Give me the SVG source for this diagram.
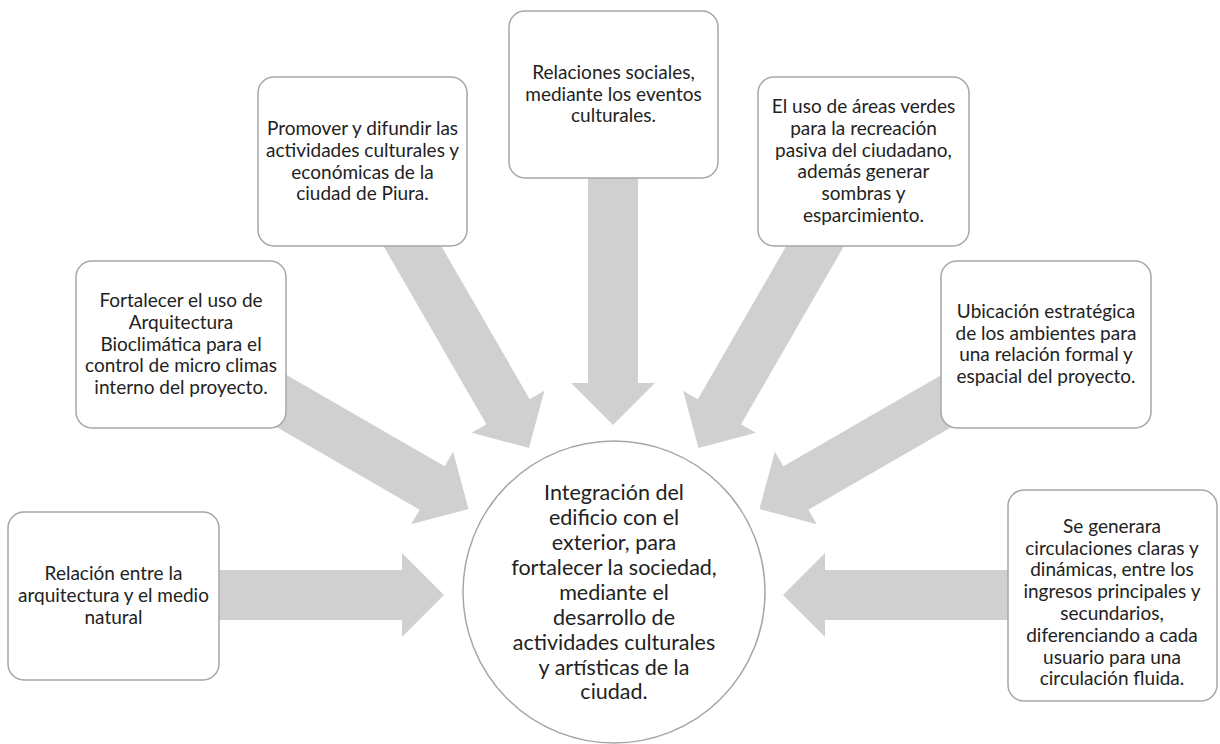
<svg xmlns="http://www.w3.org/2000/svg" width="1220" height="744" viewBox="0 0 1220 744">
<defs>
<style>
.arrow{fill:#d0d0d0;stroke:none}
.box{fill:#ffffff;stroke:#a6a6a6;stroke-width:1.5}
.t{font-family:Lato,"Liberation Sans",sans-serif;font-size:19px;fill:#222222;text-anchor:middle}
.c{font-family:Lato,"Liberation Sans",sans-serif;font-size:21.5px;fill:#222222;text-anchor:middle}
</style>
<polygon id="arr" points="0,0 -42,-42 -42,-25 -250,-25 -250,25 -42,25 -42,42"/>
</defs>
<rect width="1220" height="744" fill="#ffffff"/>
<g id="connectors">
<use href="#arr" class="arrow" transform="translate(444,595) rotate(0)"/>
<use href="#arr" class="arrow" transform="translate(783,595) rotate(180)"/>
<use href="#arr" class="arrow" transform="translate(613,425) rotate(90)"/>
<use href="#arr" class="arrow" transform="translate(468.5,509) rotate(30)"/>
<use href="#arr" class="arrow" transform="translate(529,448) rotate(60)"/>
<use href="#arr" class="arrow" transform="translate(698.5,448) rotate(120)"/>
<use href="#arr" class="arrow" transform="translate(759.5,509) rotate(150)"/>
</g>
<g id="n1">
<rect class="box" x="8" y="512" width="211" height="168" rx="16"/>
<text class="t" x="113.5" y="580">Relación entre la</text>
<text class="t" x="113.5" y="602">arquitectura y el medio</text>
<text class="t" x="113.5" y="624">natural</text>
</g>
<g id="n2">
<rect class="box" x="76" y="261" width="210" height="167" rx="16"/>
<text class="t" x="181" y="307">Fortalecer el uso de</text>
<text class="t" x="181" y="329">Arquitectura</text>
<text class="t" x="181" y="350.5">Bioclimática para el</text>
<text class="t" x="181" y="372">control de micro climas</text>
<text class="t" x="181" y="394">interno del proyecto.</text>
</g>
<g id="n3">
<rect class="box" x="258" y="77" width="209" height="169" rx="16"/>
<text class="t" x="362.5" y="135">Promover y difundir las</text>
<text class="t" x="362.5" y="157">actividades culturales y</text>
<text class="t" x="362.5" y="178.5">económicas de la</text>
<text class="t" x="362.5" y="200">ciudad de Piura.</text>
</g>
<g id="n4">
<rect class="box" x="509" y="11" width="209" height="167" rx="16"/>
<text class="t" x="613.5" y="79">Relaciones sociales,</text>
<text class="t" x="613.5" y="100.5">mediante los eventos</text>
<text class="t" x="613.5" y="122">culturales.</text>
</g>
<g id="n5">
<rect class="box" x="758" y="77" width="211" height="169" rx="16"/>
<text class="t" x="863.5" y="113">El uso de áreas verdes</text>
<text class="t" x="863.5" y="135">para la recreación</text>
<text class="t" x="863.5" y="156.5">pasiva del ciudadano,</text>
<text class="t" x="863.5" y="178">además generar</text>
<text class="t" x="863.5" y="200">sombras y</text>
<text class="t" x="863.5" y="222">esparcimiento.</text>
</g>
<g id="n6">
<rect class="box" x="941" y="261" width="210" height="167" rx="16"/>
<text class="t" x="1046" y="318">Ubicación estratégica</text>
<text class="t" x="1046" y="339.6">de los ambientes para</text>
<text class="t" x="1046" y="361.4">una relación formal y</text>
<text class="t" x="1046" y="383">espacial del proyecto.</text>
</g>
<g id="n7">
<rect class="box" x="1008" y="490" width="209" height="211" rx="16"/>
<text class="t" x="1112" y="532.7">Se generara</text>
<text class="t" x="1112" y="554.5">circulaciones claras y</text>
<text class="t" x="1112" y="576.3">dinámicas, entre los</text>
<text class="t" x="1112" y="598.1">ingresos principales y</text>
<text class="t" x="1112" y="619.9">secundarios,</text>
<text class="t" x="1112" y="641.7">diferenciando a cada</text>
<text class="t" x="1112" y="663.5">usuario para una</text>
<text class="t" x="1112" y="685.3">circulación fluida.</text>
</g>
<g id="center">
<circle class="box" cx="614" cy="592" r="151"/>
<text class="c" x="614" y="500">Integración del</text>
<text class="c" x="614" y="525">edificio con el</text>
<text class="c" x="614" y="550">exterior, para</text>
<text class="c" x="614" y="575">fortalecer la sociedad,</text>
<text class="c" x="614" y="600">mediante el</text>
<text class="c" x="614" y="624.5">desarrollo de</text>
<text class="c" x="614" y="649.5">actividades culturales</text>
<text class="c" x="614" y="674.5">y artísticas de la</text>
<text class="c" x="614" y="699">ciudad.</text>
</g>
</svg>
